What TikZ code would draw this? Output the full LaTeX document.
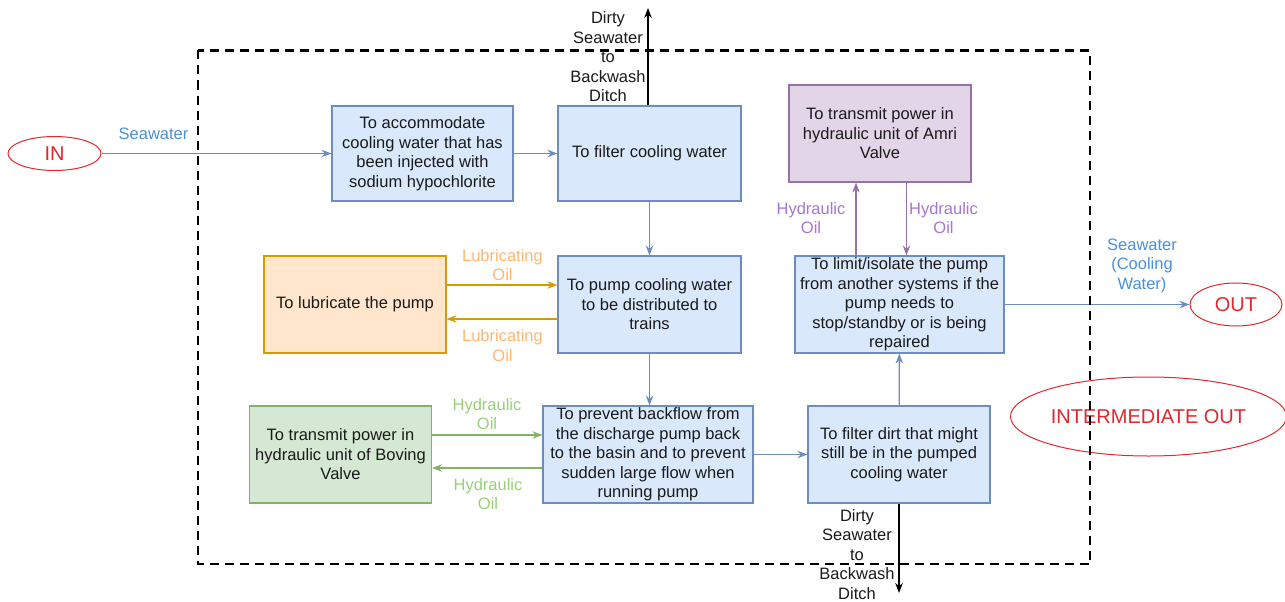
\documentclass[tikz,border=0pt]{standalone}
\usepackage{fontspec}
\setmainfont{Liberation Sans}
\usetikzlibrary{arrows.meta,shapes.geometric}
\definecolor{bfill}{HTML}{DAE8FC}
\definecolor{bdraw}{HTML}{6C8EBF}
\definecolor{ofill}{HTML}{FFE6CC}
\definecolor{odraw}{HTML}{D79B00}
\definecolor{olbl}{HTML}{FFB570}
\definecolor{gfill}{HTML}{D5E8D4}
\definecolor{gdraw}{HTML}{82B366}
\definecolor{glbl}{HTML}{97D077}
\definecolor{pfill}{HTML}{E1D5E7}
\definecolor{pdraw}{HTML}{9673A6}
\definecolor{plbl}{HTML}{A675D0}
\definecolor{swblue}{HTML}{4A90D9}
\definecolor{redc}{HTML}{E0282E}
\definecolor{txt}{HTML}{1A1A1A}
\begin{document}
\begin{tikzpicture}[x=1pt,y=-1pt,
  boxbase/.style={draw, line width=1.1pt, align=center, inner sep=1pt, anchor=center,
    text=txt, font=\fontsize{16.5}{19.5}\selectfont},
  bluebox/.style={boxbase, fill=bfill, draw=bdraw},
  orangebox/.style={boxbase, fill=ofill, draw=odraw},
  greenbox/.style={boxbase, fill=gfill, draw=gdraw},
  purplebox/.style={boxbase, fill=pfill, draw=pdraw},
  lbl/.style={align=center, inner sep=0pt, font=\fontsize{16.5}{19.5}\selectfont},
  term/.style={ellipse, draw=redc, line width=1pt, text=redc, inner sep=0pt,
    font=\fontsize{20}{24}\selectfont},
  tipstyle/.style={-{Stealth[length=10pt,width=7.5pt]}},
  flow/.style={draw=bdraw, line width=1.2pt, tipstyle},
  blk/.style={draw=black, line width=1.2pt, tipstyle},
  oilo/.style={draw=odraw, line width=1.2pt, tipstyle},
  oilg/.style={draw=gdraw, line width=1.2pt, tipstyle},
  oilp/.style={draw=pdraw, line width=1.2pt, tipstyle},
  dashbox/.style={draw=black, line width=2.8pt, dash pattern=on 9pt off 6pt}
]
\useasboundingbox (0,0) rectangle (1285,602);

% process boxes
\node[bluebox, minimum width=181pt, minimum height=95pt] (b1) at (422.5,153.5)
  {To accommodate\\cooling water that has\\been injected with\\sodium hypochlorite};
\node[bluebox, minimum width=183pt, minimum height=95pt] (b2) at (649.5,153.5)
  {To filter cooling water};
\node[bluebox, minimum width=183pt, minimum height=97pt] (b3) at (649.5,304.5)
  {To pump cooling water\\to be distributed to\\trains};
\node[orangebox, minimum width=182pt, minimum height=97pt] (lub) at (355,304.5)
  {To lubricate the pump};
\node[bluebox, minimum width=210pt, minimum height=97pt] (b5) at (648,454.5)
  {To prevent backflow from\\the discharge pump back\\to the basin and to prevent\\sudden large flow when\\running pump};
\node[greenbox, minimum width=182pt, minimum height=97pt] (grn) at (340.5,454.5)
  {To transmit power in\\hydraulic unit of Boving\\Valve};
\node[bluebox, minimum width=182pt, minimum height=97pt] (b6) at (899,454.5)
  {To filter dirt that might\\still be in the pumped\\cooling water};
\node[bluebox, minimum width=209pt, minimum height=97pt] (b7) at (899.5,304.5)
  {To limit/isolate the pump\\from another systems if the\\pump needs to\\stop/standby or is being\\repaired};
\node[purplebox, minimum width=182pt, minimum height=97pt] (pur) at (880,133.5)
  {To transmit power in\\hydraulic unit of Amri\\Valve};

% terminals
\node[term, minimum width=93pt, minimum height=34pt] (in) at (54.5,153.5) {IN};
\node[term, minimum width=92pt, minimum height=43pt] (out) at (1236,304.5) {OUT};
\node[term, minimum width=266pt, minimum height=79pt] (inter) at (1148.5,416.5) {INTERMEDIATE OUT};

% helper coordinates
\coordinate (topend) at (648,8);
\coordinate (botend) at (899,593);
\coordinate (la) at (0,285);
\coordinate (lb) at (0,319);
\coordinate (ga) at (0,435);
\coordinate (gb) at (0,468);
\coordinate (pa) at (856,0);
\coordinate (pb) at (906.5,0);

% connectors
\draw[flow] (in.east) -- (in.east -| b1.west);
\draw[flow] (b1) -- (b2);
\draw[blk] (b2.north -| topend) -- (topend);
\draw[flow] (b2.south) -- (b2.south |- b3.north);
\draw[flow] (b3.south) -- (b3.south |- b5.north);
\draw[oilo] (la -| lub.east) -- (la -| b3.west);
\draw[oilo] (lb -| b3.west) -- (lb -| lub.east);
\draw[oilg] (ga -| grn.east) -- (ga -| b5.west);
\draw[oilg] (gb -| b5.west) -- (gb -| grn.east);
\draw[flow] (b5) -- (b6);
\draw[flow] (b6) -- (b7);
\draw[blk] (b6.south -| botend) -- (botend);
\draw[oilp] (pa |- b7.north) -- (pa |- pur.south);
\draw[oilp] (pb |- pur.south) -- (pb |- b7.north);
\draw[flow] (b7.east) -- (b7.east -| out.west);

% labels
\node[lbl, text=swblue] (lsw) at (153.5,134) {Seawater};
\node[lbl, text=txt] (ltop) at (608,57) {Dirty\\Seawater\\to\\Backwash\\Ditch};
\node[lbl, text=txt] (lbot) at (857,554.5) {Dirty\\Seawater\\to\\Backwash\\Ditch};
\node[lbl, text=olbl] (lo1) at (502.5,265) {Lubricating\\Oil};
\node[lbl, text=olbl] (lo2) at (502.5,345.5) {Lubricating\\Oil};
\node[lbl, text=glbl] (lg1) at (487,414) {Hydraulic\\Oil};
\node[lbl, text=glbl] (lg2) at (488,494) {Hydraulic\\Oil};
\node[lbl, text=plbl] (lp1) at (811,218) {Hydraulic\\Oil};
\node[lbl, text=plbl] (lp2) at (943.5,218) {Hydraulic\\Oil};
\node[lbl, text=swblue] (lsw2) at (1142,265.5) {Seawater\\(Cooling\\Water)};

% system boundary
\draw[dashbox] (198,50.5) rectangle (1090,564);
\end{tikzpicture}
\end{document}
